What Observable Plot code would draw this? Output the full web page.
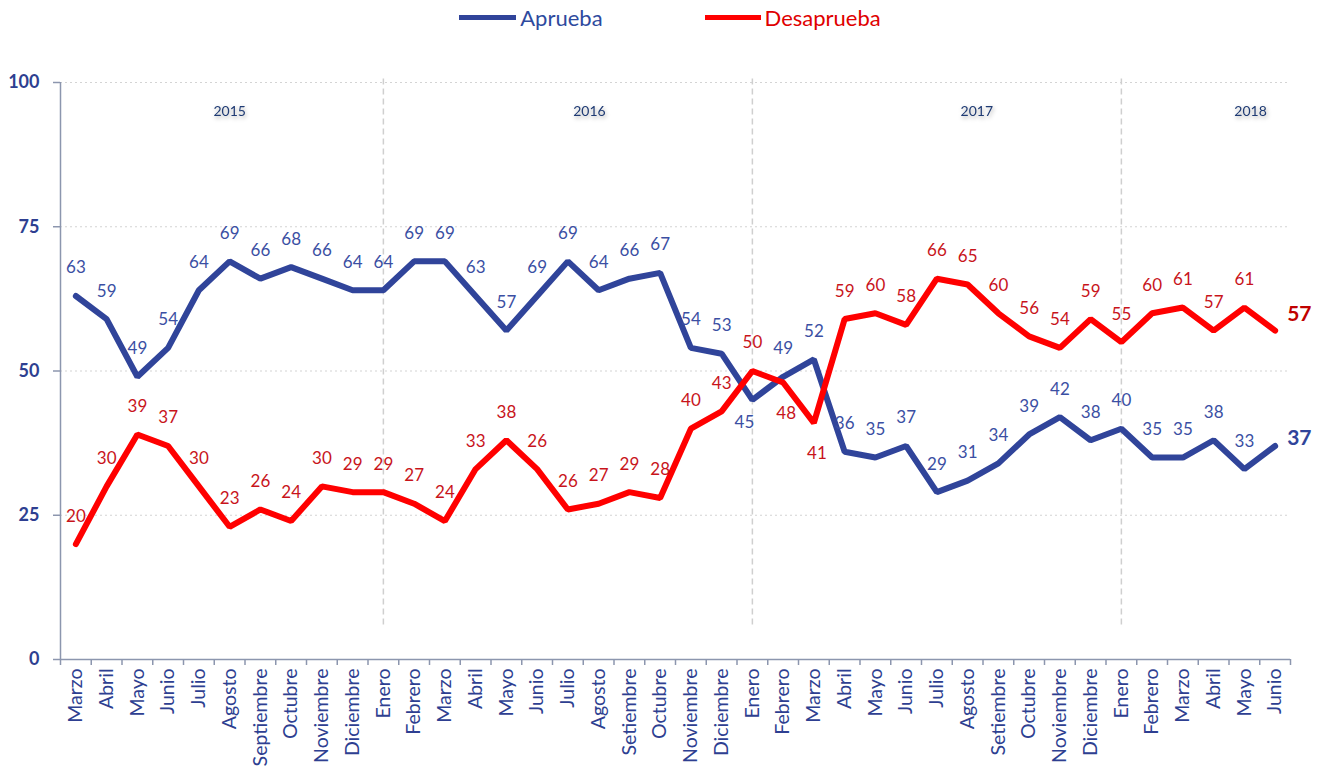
<!DOCTYPE html>
<html>
<head>
<meta charset="utf-8">
<script src="https://cdn.jsdelivr.net/npm/d3@7"></script>
<script src="https://cdn.jsdelivr.net/npm/@observablehq/plot@0.6"></script>
<style>
  body { margin: 0; background: #fff; font-family: Lato, "Open Sans", sans-serif; }
  #legend { height: 35px; display: flex; justify-content: center; align-items: center; padding-left: 14px; box-sizing: border-box; font-size: 22px; }
  .item { display: flex; align-items: center; }
  .sw { display: inline-block; height: 5px; margin-right: 4px; }
</style>
</head>
<body>
<div id="legend">
  <span class="item"><span class="sw" style="width:57px;background:#30449A"></span><span style="color:#2E4A9E">Aprueba</span></span>
  <span class="item" style="margin-left:102px"><span class="sw" style="width:56px;background:#FF0000"></span><span style="color:#E00000">Desaprueba</span></span>
</div>
<div id="chart"></div>
<script>
// Month categories (March 2015 – June 2018)
const months = ["Marzo","Abril","Mayo","Junio","Julio","Agosto","Septiembre","Octubre","Noviembre","Diciembre",
  "Enero","Febrero","Marzo","Abril","Mayo","Junio","Julio","Agosto","Setiembre","Octubre","Noviembre","Diciembre",
  "Enero","Febrero","Marzo","Abril","Mayo","Junio","Julio","Agosto","Setiembre","Octubre","Noviembre","Diciembre",
  "Enero","Febrero","Marzo","Abril","Mayo","Junio"];

// Series values (line positions)
const aprueba = [63,59,49,54,64,69,66,68,66,64,64,69,69,63,57,63,69,64,66,67,54,53,45,49,52,36,35,37,29,31,34,39,42,38,40,35,35,38,33,37];
const desaprueba = [20,30,39,37,30,23,26,24,30,29,29,27,24,33,38,33,26,27,29,28,40,43,50,48,41,59,60,58,66,65,60,56,54,59,55,60,61,57,61,57];

// Data labels as printed on the chart
const apruebaLabels = ["63","59","49","54","64","69","66","68","66","64","64","69","69","63","57","69","69","64","66","67","54","53","45","49","52","36","35","37","29","31","34","39","42","38","40","35","35","38","33","37"];
const desapruebaLabels = ["20","30","39","37","30","23","26","24","30","29","29","27","24","33","38","26","26","27","29","28","40","43","50","48","41","59","60","58","66","65","60","56","54","59","55","60","61","57","61","57"];

// Labels drawn below the point instead of above
const apruebaBelow = [22];
const desapruebaBelow = [23, 24];

// Year annotations (centred at month index)
const years = ["2015","2016","2017","2018"];
const yearAt = [5, 16.7, 29.3, 38.2];

const yTicks = [0, 25, 50, 75, 100];

const BLUE = "#30449A", RED = "#FF0000", BLUE_TXT = "#3B4FA3", RED_TXT = "#C8141B", AXIS_TXT = "#2E3F91", AXIS = "#8C96AE";

const idx = d3.range(months.length);
const last = months.length - 1;
const apr = idx.map(i => ({i, v: aprueba[i], t: apruebaLabels[i]}));
const des = idx.map(i => ({i, v: desaprueba[i], t: desapruebaLabels[i]}));
const yearStarts = idx.filter(i => i > 0 && months[i] === "Enero");
const yearData = years.map((y, k) => ({y, x: yearAt[k]}));

const chart = Plot.plot({
  width: 1326,
  height: 736,
  marginTop: 47,
  marginBottom: 112,
  marginLeft: 60,
  marginRight: 36,
  style: {fontFamily: "Lato, 'Open Sans', sans-serif", background: "#fff"},
  x: {type: "linear", domain: [-0.5, months.length - 0.5]},
  y: {domain: [0, 100]},
  marks: [
    Plot.ruleY(yTicks.filter(d => d > 0), {stroke: "#d4d4d4", strokeDasharray: "2,3", strokeWidth: 1.2}),
    Plot.ruleX(yearStarts, {y1: 6, y2: 101, stroke: "#cfcfcf", strokeDasharray: "6,4", strokeWidth: 1.5}),
    Plot.text(yearData, {x: "x", y: 95, text: "y", fill: "#1F3B74", fontSize: 14}),
    Plot.axisX(d3.range(months.length + 1).map(i => i - 0.5), {tickSize: 6, stroke: AXIS, strokeWidth: 1.5, tickFormat: () => "", label: null}),
    Plot.axisX(idx, {tickSize: 0, tickRotate: -90, tickPadding: 9, tickFormat: i => months[i], fill: AXIS_TXT, fontSize: 19.5, label: null}),
    Plot.axisY(yTicks, {tickSize: 7, tickPadding: 14, stroke: AXIS, strokeWidth: 1.5, fill: AXIS_TXT, fontSize: 18, fontWeight: "bold", label: null}),
    Plot.ruleY([0], {stroke: AXIS, strokeWidth: 1.5}),
    Plot.ruleX([-0.5], {stroke: AXIS, strokeWidth: 1.5}),
    Plot.line(apr, {x: "i", y: "v", stroke: BLUE, strokeWidth: 6, strokeLinejoin: "miter"}),
    Plot.line(des, {x: "i", y: "v", stroke: RED, strokeWidth: 6, strokeLinejoin: "miter"}),
    Plot.text(apr.filter(d => d.i !== last && !apruebaBelow.includes(d.i)), {x: "i", y: "v", text: "t", dy: -28, fill: BLUE_TXT, fontSize: 17}),
    Plot.text(apr.filter(d => apruebaBelow.includes(d.i)), {x: "i", y: "v", text: "t", dy: 23, dx: -8, fill: BLUE_TXT, fontSize: 17}),
    Plot.text(des.filter(d => d.i !== last && !desapruebaBelow.includes(d.i)), {x: "i", y: "v", text: "t", dy: -28, fill: RED_TXT, fontSize: 17}),
    Plot.text(des.filter(d => desapruebaBelow.includes(d.i)), {x: "i", y: "v", text: "t", dy: 31, dx: 3, fill: RED_TXT, fontSize: 17}),
    Plot.text(apr.filter(d => d.i === last), {x: "i", y: "v", text: "t", dx: 12, dy: -8, textAnchor: "start", fill: BLUE, fontSize: 21, fontWeight: "bold"}),
    Plot.text(des.filter(d => d.i === last), {x: "i", y: "v", text: "t", dx: 12, dy: -16, textAnchor: "start", fill: "#C00000", fontSize: 21, fontWeight: "bold"})
  ]
});

d3.select(chart).selectAll("text").filter(function() { return years.includes(this.textContent); })
  .style("filter", "drop-shadow(1px 2px 2px rgba(0,0,0,0.35))");

document.getElementById("chart").appendChild(chart);
</script>
</body>
</html>
